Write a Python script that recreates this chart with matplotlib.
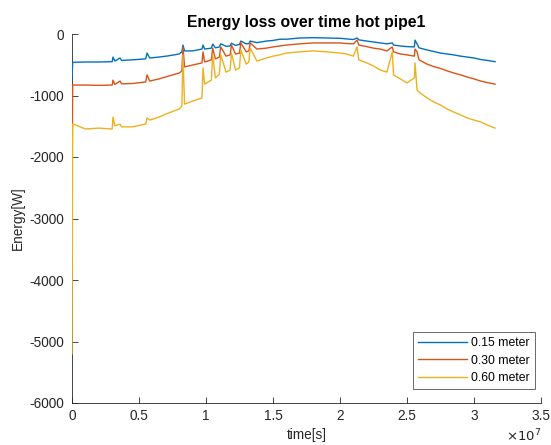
import matplotlib.pyplot as plt

plt.rcParams['font.family'] = ['Liberation Sans', 'DejaVu Sans']
plt.rcParams['axes.unicode_minus'] = False

# time in units of 1e7 s
t_e7 = [0, 0.005, 0.1, 0.2, 0.3, 0.306, 0.32, 0.358, 0.37, 0.45, 0.55, 0.56, 0.58, 0.65,
        0.72, 0.80, 0.82, 0.828, 0.84, 0.9, 0.97, 0.978, 0.99, 1.04, 1.05, 1.07, 1.10,
        1.11, 1.15, 1.18, 1.19, 1.22, 1.25, 1.26, 1.30, 1.32, 1.33, 1.38, 1.45, 1.5, 1.55,
        1.6, 1.7, 1.8, 1.9, 2.0, 2.05, 2.1, 2.127, 2.14, 2.2, 2.25, 2.3, 2.35, 2.39, 2.40,
        2.45, 2.5, 2.555, 2.56, 2.575, 2.59, 2.65, 2.7, 2.75, 2.8, 2.85, 2.9, 2.95, 3.0,
        3.05, 3.1, 3.157]

e_015 = [-700, -460, -455, -455, -450, -375, -440, -390, -430, -420, -405, -310, -390, -375,
         -355, -325, -290, -180, -275, -275, -245, -180, -245, -230, -165, -225, -210,
         -160, -200, -195, -150, -185, -170, -115, -160, -155, -115, -140, -115, -105, -85,
         -85, -65, -60, -65, -70, -80, -90, -65, -95, -115, -130, -145, -160, -145, -180,
         -195, -205, -210, -100, -160, -225, -260, -285, -310, -325, -340, -360, -375, -390,
         -415, -430, -450]

e_030 = [-2700, -830, -830, -835, -830, -750, -820, -765, -810, -805, -780, -665, -765, -730,
         -685, -635, -600, -210, -535, -505, -470, -290, -455, -420, -230, -405, -375,
         -210, -360, -340, -180, -325, -310, -145, -290, -275, -145, -245, -230, -210, -195,
         -180, -160, -145, -145, -145, -155, -160, -100, -180, -205, -230, -245, -275, -210, -290,
         -325, -340, -360, -245, -290, -420, -490, -530, -560, -600, -635, -665, -700, -730,
         -765, -790, -815]

e_060 = [-5200, -1460, -1545, -1530, -1545, -1350, -1495, -1465, -1510, -1510, -1465, -1365, -1400, -1350,
         -1285, -1220, -1170, -340, -1140, -1090, -1040, -550, -815, -750, -340, -715, -650,
         -340, -620, -585, -310, -585, -550, -260, -490, -455, -230, -440, -390, -360, -340,
         -310, -290, -275, -290, -310, -325, -360, -210, -420, -470, -520, -585, -620, -290, -665,
         -730, -795, -715, -470, -910, -945, -1040, -1105, -1155, -1220, -1270, -1315, -1365, -1400,
         -1430, -1480, -1530]

labels = ['0.15 meter', '0.30 meter', '0.60 meter']
colors = ['#0072BD', '#D95319', '#EDB120']

x_ticks = [0, 0.5, 1, 1.5, 2, 2.5, 3, 3.5]
y_ticks = [-6000, -5000, -4000, -3000, -2000, -1000, 0]

t = [v * 1e7 for v in t_e7]

fig = plt.figure(figsize=(5.51, 4.45), dpi=100)
ax = fig.add_axes([72 / 551, 1 - 403 / 445, 469 / 551, 369 / 445])

for data, lab, col in zip([e_015, e_030, e_060], labels, colors):
    ax.plot(t, data, color=col, lw=1.0, label=lab, zorder=3)

ax.set_xlim(0, 3.5e7)
ax.set_ylim(-6000, 0)
ax.set_xticks([v * 1e7 for v in x_ticks])
ax.set_xticklabels(['0' if v == 0 else f'{v:g}' for v in x_ticks])
ax.set_yticks(y_ticks)

gray = '#262626'
for side in ['top', 'right']:
    ax.spines[side].set_visible(False)
for side in ['left', 'bottom']:
    ax.spines[side].set_color(gray)
    ax.spines[side].set_linewidth(0.6)
ax.tick_params(direction='in', length=4, width=0.6, colors=gray, labelsize=9.8)
ax.tick_params(axis='x', pad=4)
ax.tick_params(axis='y', pad=6)

ax.set_title('Energy loss over time hot pipe1', fontsize=11.3, fontweight='bold', pad=5)
ax.set_xlabel('time[s]', fontsize=9.8, color=gray, labelpad=4)
ax.set_ylabel('Energy[W]', fontsize=9.8, color=gray, labelpad=3)
ax.text(1.0, -0.068, r'$\times10^{7}$', transform=ax.transAxes, ha='right', va='top',
        fontsize=9.5, color=gray)

leg = ax.legend(loc='lower right', bbox_to_anchor=(0.987, 0.038), borderaxespad=0,
                fontsize=8.8, frameon=True, fancybox=False, edgecolor=gray,
                handlelength=4.0, labelspacing=0.45, borderpad=0.4, handletextpad=0.4)
leg.get_frame().set_linewidth(0.6)

fig.savefig('out.png', dpi=100)
